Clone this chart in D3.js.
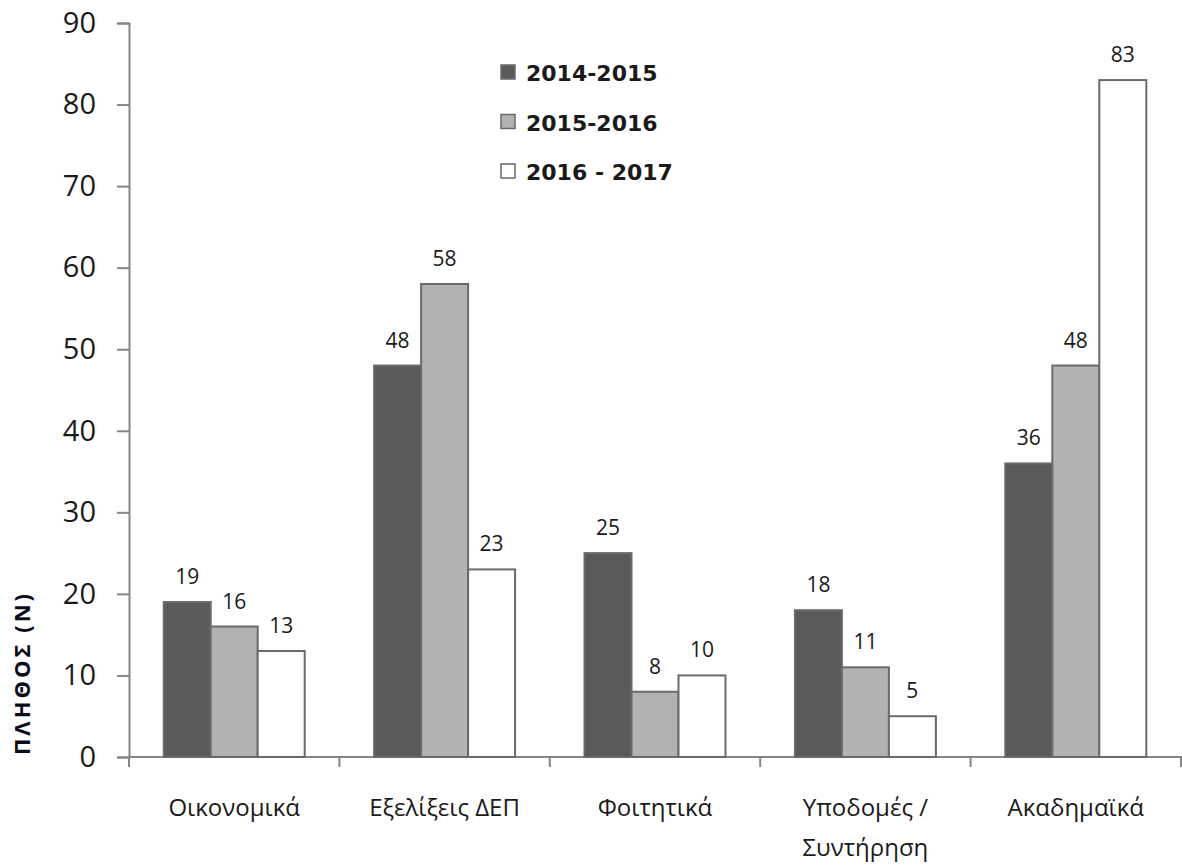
<!DOCTYPE html>
<html>
<head>
<meta charset="utf-8">
<script src="https://cdn.jsdelivr.net/npm/d3@7"></script>
<style>
  body { margin: 0; background: #fff; }
  text { font-family: "Open Sans", sans-serif; }
</style>
</head>
<body>
<div id="chart"></div>
<script>
// catégories et séries
const categories = ["Οικονομικά", "Εξελίξεις ΔΕΠ", "Φοιτητικά", "Υποδομές / Συντήρηση", "Ακαδημαϊκά"];
const seriesNames = ["2014-2015", "2015-2016", "2016 - 2017"];
const values2014 = [19, 48, 25, 18, 36];
const values2015 = [16, 58, 8, 11, 48];
const values2016 = [13, 23, 10, 5, 83];
const yTicks = [0, 10, 20, 30, 40, 50, 60, 70, 80, 90];

const colors = ["#5a5a5a", "#b2b2b2", "#ffffff"];
const allValues = [values2014, values2015, values2016];

const width = 1182, height = 865;
const margin = { top: 23, right: 1, bottom: 108, left: 129 };

const svg = d3.select("#chart").append("svg")
  .attr("width", width)
  .attr("height", height);

const x0 = d3.scaleBand()
  .domain(categories)
  .range([margin.left, width - margin.right])
  .paddingInner(0.33)
  .paddingOuter(0.165);

const x1 = d3.scaleBand()
  .domain(seriesNames)
  .range([0, x0.bandwidth()]);

const y = d3.scaleLinear()
  .domain([0, 90])
  .range([height - margin.bottom, margin.top]);

// axe Y
const yAxis = svg.append("g")
  .attr("transform", "translate(" + margin.left + ",0)")
  .call(d3.axisLeft(y).tickValues(yTicks).tickSize(12).tickPadding(21));
yAxis.select(".domain").attr("stroke", "#868686").attr("stroke-width", 2);
yAxis.selectAll(".tick line").attr("stroke", "#868686").attr("stroke-width", 2);
yAxis.selectAll(".tick text")
  .attr("font-size", "29px")
  .attr("fill", "#1a1a1a")
  .style("font-family", "'Open Sans', sans-serif");

// axe X (ticks aux limites des catégories)
const step = x0.step();
const boundaries = d3.range(categories.length + 1).map(i => margin.left + i * step);
svg.append("line")
  .attr("x1", margin.left).attr("x2", width)
  .attr("y1", y(0)).attr("y2", y(0))
  .attr("stroke", "#868686").attr("stroke-width", 2);
svg.selectAll(".xtick")
  .data(boundaries)
  .enter()
  .append("line")
  .attr("x1", d => d).attr("x2", d => d)
  .attr("y1", y(0)).attr("y2", y(0) + 10)
  .attr("stroke", "#868686").attr("stroke-width", 2);

// étiquettes de catégories
const catLabels = svg.selectAll(".cat")
  .data(categories)
  .enter()
  .append("text")
  .attr("text-anchor", "middle")
  .attr("font-size", "24px")
  .attr("fill", "#1a1a1a")
  .attr("x", d => x0(d) + x0.bandwidth() / 2)
  .attr("y", 816);
catLabels.each(function (d) {
  const parts = d === "Υποδομές / Συντήρηση" ? ["Υποδομές /", "Συντήρηση"] : [d];
  const t = d3.select(this);
  parts.forEach((p, i) => {
    t.append("tspan")
      .attr("x", x0(d) + x0.bandwidth() / 2)
      .attr("dy", i === 0 ? 0 : 40)
      .text(p);
  });
});

// barres
const groups = svg.selectAll(".grp")
  .data(categories)
  .enter()
  .append("g")
  .attr("transform", d => "translate(" + x0(d) + ",0)");

groups.selectAll("rect")
  .data((d, i) => seriesNames.map((s, j) => ({ s: s, v: allValues[j][i], j: j })))
  .enter()
  .append("rect")
  .attr("x", d => x1(d.s))
  .attr("y", d => y(d.v))
  .attr("width", x1.bandwidth())
  .attr("height", d => y(0) - y(d.v))
  .attr("fill", d => colors[d.j])
  .attr("stroke", "#6a6a6a")
  .attr("stroke-width", 2);

groups.selectAll(".val")
  .data((d, i) => seriesNames.map((s, j) => ({ s: s, v: allValues[j][i] })))
  .enter()
  .append("text")
  .attr("text-anchor", "middle")
  .attr("font-size", "21px")
  .attr("fill", "#1a1a1a")
  .attr("x", d => x1(d.s) + x1.bandwidth() / 2)
  .attr("y", d => y(d.v) - 18)
  .text(d => d.v);

// titre de l'axe Y
svg.append("text")
  .attr("transform", "translate(30,673) rotate(-90)")
  .attr("text-anchor", "middle")
  .attr("font-size", "22px")
  .attr("font-weight", "bold")
  .attr("letter-spacing", "3px")
  .attr("fill", "#0d0d1a")
  .text("ΠΛΗΘΟΣ (N)");

// légende
const legend = svg.selectAll(".leg")
  .data(seriesNames)
  .enter()
  .append("g")
  .attr("transform", (d, i) => "translate(501," + (72 + i * 49.5) + ")");
legend.append("rect")
  .attr("x", 0).attr("y", -7)
  .attr("width", 14).attr("height", 14)
  .attr("fill", (d, i) => colors[i])
  .attr("stroke", "#6a6a6a")
  .attr("stroke-width", 1.5);
legend.append("text")
  .attr("x", 25)
  .attr("y", 9)
  .attr("font-size", "22px")
  .attr("font-weight", "bold")
  .attr("fill", "#1a1a1a")
  .style("font-family", "'DejaVu Sans', sans-serif")
  .text(d => d);
</script>
</body>
</html>
